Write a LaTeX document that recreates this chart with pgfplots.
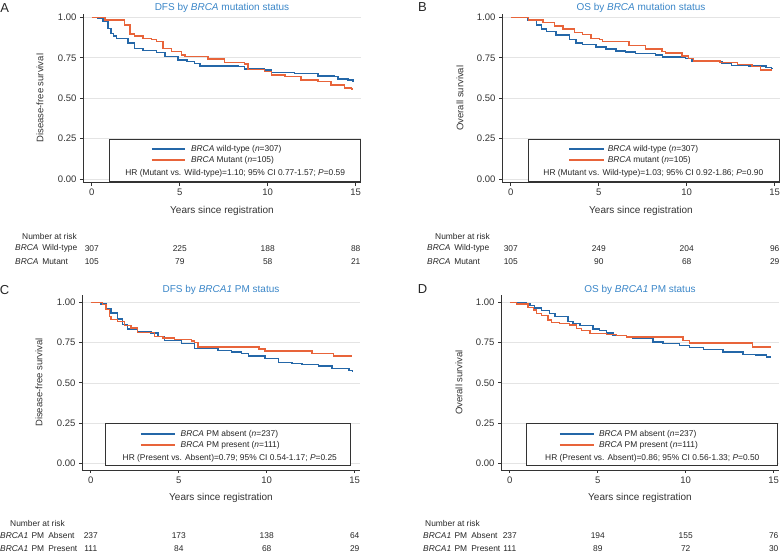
\documentclass[border=0pt]{standalone}
\usepackage{fontspec}
\setmainfont{Liberation Sans}
\usepackage{pgfplots}
\pgfplotsset{compat=1.18}
\definecolor{cblue}{HTML}{2467A8}
\definecolor{corange}{HTML}{E8643A}
\definecolor{ctitle}{HTML}{3A86C8}
\definecolor{cgrid}{HTML}{E4E4E4}
\definecolor{cax}{HTML}{333333}

\pgfplotsset{
  km/.style={
    scale only axis, width=278pt,
    xmin=-0.5, xmax=15.3,
    axis x line=bottom, axis y line=left,
    axis line style={cax, line width=0.8pt, -},
    xtick={0,5,10,15}, ytick={0,0.25,0.5,0.75,1},
    yticklabels={0.00,0.25,0.50,0.75,1.00},
    tick align=outside, major tick length=3pt,
    tick style={cax, line width=0.7pt},
    ymajorgrids, grid style={cgrid, line width=0.6pt},
    tick label style={font=\fontsize{9.5}{11}\selectfont, text=cax},
    /pgf/number format/assume math mode=true,
    xlabel={Years since registration},
    xlabel style={at={(0.5,0)}, anchor=center, yshift=-28pt,
      font=\fontsize{10}{12}\selectfont, text=cax},
    ylabel style={at={(0,0.5)}, anchor=center, yshift=43pt,
      font=\fontsize{9.5}{11}\selectfont, text=cax},
    title style={at={(0.5,1)}, anchor=center, yshift=0pt,
      font=\fontsize{10}{12}\selectfont, text=ctitle},
    clip=false,
    every axis plot/.append style={const plot, line width=1.4pt},
  },
  top/.style={height=169pt, ymin=-0.023, ymax=1.0225},
  bot/.style={height=175pt, ymin=-0.043, ymax=1.047},
}
\tikzset{
  leg/.style={font=\fontsize{8.4}{10}\selectfont, text=black!85, inner sep=0pt},
  risk/.style={font=\fontsize{8.4}{10}\selectfont, text=black!85, inner sep=0pt},
  letter/.style={font=\fontsize{13}{15}\selectfont, text=black!85},
}

\begin{document}
\begin{tikzpicture}
\useasboundingbox (0,0) rectangle (780pt,553pt);

% ---------- A ----------
\begin{axis}[km, top, at={(83pt,370.3pt)}, anchor=south west,
  title={DFS by \textit{BRCA} mutation status},
  ylabel={Disease-free survival}]
\addplot[cblue] coordinates {(0,1)(0.36,0.994)(0.64,0.973)(0.93,0.932)(1.1,0.90)(1.25,0.885)(1.40,0.870)(2.06,0.840)(2.44,0.809)(2.92,0.794)(3.67,0.784)(4.15,0.757)(4.91,0.737)(5.4,0.728)(5.85,0.716)(6.14,0.700)(8.31,0.695)(8.69,0.681)(9.83,0.675)(10.21,0.660)(11.53,0.654)(12.86,0.638)(13.81,0.634)(14.0,0.619)(14.56,0.613)(14.85,0.605)(14.9,0.605)};
\addplot[corange] coordinates {(0,1)(0.74,0.984)(1.87,0.953)(2.16,0.897)(2.44,0.885)(2.92,0.870)(3.39,0.864)(3.67,0.850)(4.05,0.809)(4.53,0.788)(5.1,0.767)(5.3,0.757)(6.6,0.741)(7.55,0.72)(8.69,0.712)(8.88,0.679)(9.83,0.665)(10.21,0.644)(10.97,0.634)(11.9,0.613)(12.86,0.603)(13.6,0.582)(14.37,0.562)(14.75,0.556)(14.85,0.556)};
\draw[cax, line width=0.9pt, fill=white] (1.02,-0.015) rectangle (15.28,0.247);
\draw[cblue, line width=1.4pt] (3.41,0.185) -- (5.28,0.185);
\draw[corange, line width=1.4pt] (3.41,0.117) -- (5.28,0.117);
\node[leg, anchor=west] at (5.63,0.185) {\textit{BRCA} wild-type (\textit{n}=307)};
\node[leg, anchor=west] at (5.63,0.117) {\textit{BRCA} Mutant (\textit{n}=105)};
\node[leg] at (8.15,0.037) {HR (Mutant vs. Wild-type)=1.10; 95\% CI 0.77-1.57; \textit{P}=0.59};
\node[risk, anchor=east, xshift=-6pt, yshift=-54pt] at (-0.5,-0.023) {Number at risk};
\node[risk, anchor=west, xshift=-68pt, yshift=-66pt] at (-0.5,-0.023) {\textit{BRCA}\hspace{0.45em}Wild-type};
\node[risk, anchor=west, xshift=-68pt, yshift=-79pt] at (-0.5,-0.023) {\textit{BRCA}\hspace{0.45em}Mutant};
\node[risk, yshift=-66pt] at (0,-0.023) {307};
\node[risk, yshift=-66pt] at (5,-0.023) {225};
\node[risk, yshift=-66pt] at (10,-0.023) {188};
\node[risk, yshift=-66pt] at (15,-0.023) {88};
\node[risk, yshift=-79pt] at (0,-0.023) {105};
\node[risk, yshift=-79pt] at (5,-0.023) {79};
\node[risk, yshift=-79pt] at (10,-0.023) {58};
\node[risk, yshift=-79pt] at (15,-0.023) {21};
\end{axis}

% ---------- B ----------
\begin{axis}[km, top, at={(502pt,370.3pt)}, anchor=south west,
  title={OS by \textit{BRCA} mutation status},
  ylabel={Overall survival}, ylabel style={yshift=-1pt}]
\addplot[cblue] coordinates {(0,1)(0.95,0.984)(1.45,0.953)(1.73,0.927)(2.02,0.913)(2.58,0.891)(3.33,0.862)(3.71,0.841)(4.09,0.833)(4.84,0.817)(5.41,0.805)(5.97,0.791)(6.53,0.785)(7.10,0.776)(8.23,0.766)(8.61,0.754)(9.92,0.746)(10.30,0.726)(12.0,0.713)(12.56,0.703)(13.5,0.70)(14.5,0.69)(14.8,0.685)(14.9,0.685)};
\addplot[corange] coordinates {(0,1)(1.0,0.984)(1.83,0.967)(2.49,0.947)(2.96,0.927)(3.62,0.907)(4.09,0.892)(4.56,0.868)(5.03,0.862)(5.22,0.852)(6.72,0.825)(7.66,0.805)(8.60,0.79)(8.79,0.78)(9.73,0.76)(10.11,0.744)(10.40,0.73)(11.9,0.72)(12.9,0.71)(13.7,0.695)(14.2,0.675)(14.85,0.675)};
\draw[cax, line width=0.9pt, fill=white] (1.02,-0.015) rectangle (15.28,0.247);
\draw[cblue, line width=1.4pt] (3.33,0.185) -- (5.3,0.185);
\draw[corange, line width=1.4pt] (3.33,0.117) -- (5.3,0.117);
\node[leg, anchor=west] at (5.5,0.185) {\textit{BRCA} wild-type (\textit{n}=307)};
\node[leg, anchor=west] at (5.5,0.117) {\textit{BRCA} mutant (\textit{n}=105)};
\node[leg] at (8.1,0.037) {HR (Mutant vs. Wild-type)=1.03; 95\% CI 0.92-1.86; \textit{P}=0.90};
\node[risk, anchor=east, xshift=-12pt, yshift=-54pt] at (-0.5,-0.023) {Number at risk};
\node[risk, anchor=west, xshift=-75pt, yshift=-66pt] at (-0.5,-0.023) {\textit{BRCA}\hspace{0.45em}Wild-type};
\node[risk, anchor=west, xshift=-75pt, yshift=-79pt] at (-0.5,-0.023) {\textit{BRCA}\hspace{0.45em}Mutant};
\node[risk, yshift=-66pt] at (0,-0.023) {307};
\node[risk, yshift=-66pt] at (5,-0.023) {249};
\node[risk, yshift=-66pt] at (10,-0.023) {204};
\node[risk, yshift=-66pt] at (15,-0.023) {96};
\node[risk, yshift=-79pt] at (0,-0.023) {105};
\node[risk, yshift=-79pt] at (5,-0.023) {90};
\node[risk, yshift=-79pt] at (10,-0.023) {68};
\node[risk, yshift=-79pt] at (15,-0.023) {29};
\end{axis}

% ---------- C ----------
\begin{axis}[km, bot, at={(82pt,83pt)}, anchor=south west,
  title={DFS by \textit{BRCA1} PM status}, title style={yshift=-1pt},
  ylabel={Disease-free survival}]
\addplot[cblue] coordinates {(0,1)(0.55,0.99)(0.86,0.959)(1.14,0.934)(1.52,0.897)(1.81,0.862)(2.10,0.835)(2.67,0.82)(3.43,0.81)(3.81,0.79)(4.19,0.763)(5.14,0.745)(5.90,0.714)(7.24,0.702)(8.0,0.691)(8.57,0.683)(8.95,0.667)(9.90,0.65)(10.67,0.626)(11.43,0.622)(12.0,0.613)(12.95,0.605)(13.71,0.59)(14.67,0.578)(14.86,0.57)(14.9,0.57)};
\addplot[corange] coordinates {(0,1)(0.67,0.986)(0.86,0.955)(1.05,0.914)(1.14,0.893)(1.52,0.883)(1.90,0.856)(2.29,0.842)(2.67,0.815)(3.62,0.79)(4.10,0.78)(4.76,0.77)(5.71,0.76)(5.9,0.75)(6.10,0.724)(9.55,0.71)(9.9,0.698)(12.57,0.683)(13.8,0.667)(14.86,0.667)};
\draw[cax, line width=0.9pt, fill=white] (0.82,-0.015) rectangle (14.75,0.245);
\draw[cblue, line width=1.4pt] (2.85,0.18) -- (4.8,0.18);
\draw[corange, line width=1.4pt] (2.85,0.112) -- (4.8,0.112);
\node[leg, anchor=west] at (5.1,0.18) {\textit{BRCA} PM absent (\textit{n}=237)};
\node[leg, anchor=west] at (5.1,0.112) {\textit{BRCA} PM present (\textit{n}=111)};
\node[leg] at (7.9,0.03) {HR (Present vs. Absent)=0.79; 95\% CI 0.54-1.17; \textit{P}=0.25};
\node[risk, anchor=east, xshift=-17pt, yshift=-54pt] at (-0.5,-0.043) {Number at risk};
\node[risk, anchor=west, xshift=-82pt, yshift=-66pt] at (-0.5,-0.043) {\textit{BRCA1}\hspace{0.4em}PM\hspace{0.5em}Absent};
\node[risk, anchor=west, xshift=-82pt, yshift=-79pt] at (-0.5,-0.043) {\textit{BRCA1}\hspace{0.4em}PM\hspace{0.5em}Present};
\node[risk, yshift=-66pt] at (0,-0.043) {237};
\node[risk, yshift=-66pt] at (5,-0.043) {173};
\node[risk, yshift=-66pt] at (10,-0.043) {138};
\node[risk, yshift=-66pt] at (15,-0.043) {64};
\node[risk, yshift=-79pt] at (0,-0.043) {111};
\node[risk, yshift=-79pt] at (5,-0.043) {84};
\node[risk, yshift=-79pt] at (10,-0.043) {68};
\node[risk, yshift=-79pt] at (15,-0.043) {29};
\end{axis}

% ---------- D ----------
\begin{axis}[km, bot, at={(501pt,83pt)}, anchor=south west,
  title={OS by \textit{BRCA1} PM status}, title style={yshift=-1pt},
  ylabel={Overall survival}, ylabel style={yshift=-1pt}]
\addplot[cblue] coordinates {(0,1)(0.95,0.99)(1.14,0.98)(1.42,0.965)(1.80,0.949)(2.27,0.932)(2.56,0.912)(3.31,0.883)(3.60,0.871)(3.98,0.857)(4.73,0.836)(5.11,0.826)(5.49,0.811)(5.87,0.795)(6.63,0.785)(7.01,0.775)(8.14,0.754)(8.71,0.744)(9.66,0.734)(10.23,0.719)(11.0,0.707)(12.12,0.693)(13.26,0.678)(14.0,0.672)(14.6,0.662)(14.85,0.662)};
\addplot[corange] coordinates {(0,1)(0.38,0.99)(1.04,0.969)(1.33,0.953)(1.52,0.932)(1.80,0.918)(2.18,0.891)(2.37,0.877)(2.84,0.871)(3.41,0.861)(3.79,0.84)(4.07,0.826)(4.55,0.809)(5.49,0.80)(6.06,0.795)(6.63,0.785)(9.85,0.764)(10.23,0.748)(13.8,0.723)(14.85,0.723)};
\draw[cax, line width=0.9pt, fill=white] (0.97,-0.015) rectangle (15.2,0.245);
\draw[cblue, line width=1.4pt] (2.84,0.18) -- (4.77,0.18);
\draw[corange, line width=1.4pt] (2.84,0.112) -- (4.77,0.112);
\node[leg, anchor=west] at (5.06,0.18) {\textit{BRCA} PM absent (\textit{n}=237)};
\node[leg, anchor=west] at (5.06,0.112) {\textit{BRCA} PM present (\textit{n}=111)};
\node[leg] at (8.1,0.03) {HR (Present vs. Absent)=0.86; 95\% CI 0.56-1.33; \textit{P}=0.50};
\node[risk, anchor=east, xshift=-21pt, yshift=-54pt] at (-0.5,-0.043) {Number at risk};
\node[risk, anchor=west, xshift=-78pt, yshift=-66pt] at (-0.5,-0.043) {\textit{BRCA1}\hspace{0.4em}PM\hspace{0.5em}Absent};
\node[risk, anchor=west, xshift=-78pt, yshift=-79pt] at (-0.5,-0.043) {\textit{BRCA1}\hspace{0.4em}PM\hspace{0.5em}Present};
\node[risk, yshift=-66pt] at (0,-0.043) {237};
\node[risk, yshift=-66pt] at (5,-0.043) {194};
\node[risk, yshift=-66pt] at (10,-0.043) {155};
\node[risk, yshift=-66pt] at (15,-0.043) {76};
\node[risk, yshift=-79pt] at (0,-0.043) {111};
\node[risk, yshift=-79pt] at (5,-0.043) {89};
\node[risk, yshift=-79pt] at (10,-0.043) {72};
\node[risk, yshift=-79pt] at (15,-0.043) {30};
\end{axis}

\node[letter] at (4.7pt,545.2pt) {A};
\node[letter] at (422.5pt,545.8pt) {B};
\node[letter] at (4.5pt,263pt) {C};
\node[letter] at (422.5pt,264pt) {D};
\end{tikzpicture}
\end{document}
